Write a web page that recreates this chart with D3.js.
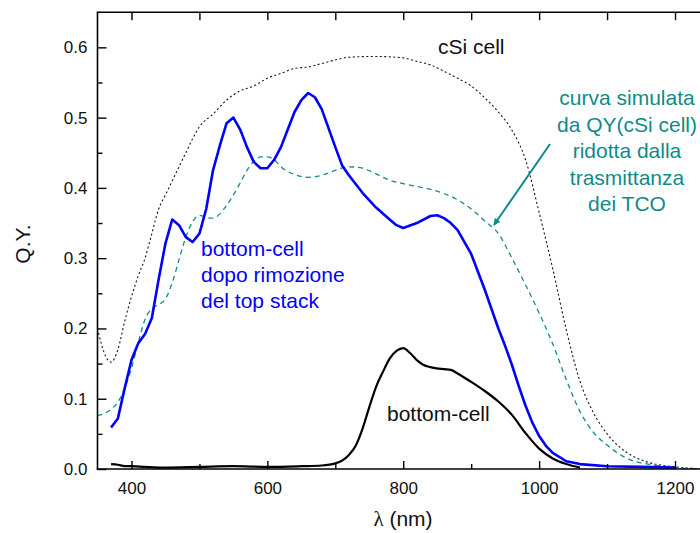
<!DOCTYPE html>
<html>
<head>
<meta charset="utf-8">
<script src="https://cdn.jsdelivr.net/npm/d3@7"></script>
<style>
  html, body { margin: 0; padding: 0; background: #fff; }
  svg { display: block; font-family: "Liberation Sans", Arial, sans-serif; }
</style>
</head>
<body>
<svg id="chart" width="700" height="533"></svg>
<script>
// ---- Data (wavelength in nm, quantum yield) ----
const cSiWl = [350,360,370,380,390,400,410,420,430,440,450,460,470,480,490,500,520,540,560,580,600,620,640,660,680,700,720,760,800,820,840,860,880,900,920,940,960,980,1000,1020,1040,1060,1080,1100,1120,1150,1200,1250];
const cSiQY = [0.200,0.165,0.152,0.170,0.210,0.245,0.275,0.300,0.335,0.370,0.390,0.410,0.430,0.450,0.470,0.487,0.505,0.525,0.538,0.545,0.556,0.563,0.570,0.572,0.577,0.582,0.586,0.587,0.585,0.580,0.575,0.566,0.556,0.545,0.528,0.508,0.482,0.440,0.365,0.285,0.198,0.125,0.080,0.050,0.030,0.013,0.003,0.000];

const blueWl = [370,380,390,400,410,420,430,440,450,460,470,480,490,500,510,520,530,540,550,560,570,580,590,600,610,620,630,640,650,660,670,680,690,700,710,720,740,760,780,790,800,820,840,850,860,870,880,900,920,940,950,960,970,980,990,1000,1010,1020,1040,1060,1100,1150,1200];
const blueQY = [0.059,0.072,0.115,0.155,0.179,0.192,0.215,0.270,0.321,0.355,0.347,0.330,0.323,0.335,0.370,0.425,0.460,0.492,0.500,0.483,0.458,0.437,0.428,0.428,0.440,0.458,0.483,0.508,0.525,0.535,0.529,0.512,0.485,0.458,0.432,0.418,0.393,0.372,0.355,0.347,0.343,0.350,0.360,0.361,0.357,0.350,0.340,0.306,0.255,0.200,0.175,0.148,0.118,0.090,0.066,0.047,0.033,0.023,0.011,0.007,0.004,0.003,0.002];

const simWl = [350,360,370,380,390,400,410,420,430,440,450,460,470,480,490,500,510,520,530,540,550,560,570,580,590,600,610,620,640,660,680,700,720,740,760,780,800,820,840,860,880,900,920,940,960,980,1000,1020,1040,1060,1080,1100,1120,1140,1160,1200,1250];
const simQY = [0.076,0.079,0.085,0.095,0.115,0.143,0.180,0.213,0.228,0.234,0.242,0.265,0.298,0.330,0.352,0.361,0.358,0.357,0.363,0.375,0.390,0.407,0.425,0.438,0.444,0.444,0.440,0.430,0.419,0.415,0.418,0.425,0.430,0.428,0.420,0.411,0.406,0.402,0.398,0.392,0.383,0.370,0.353,0.335,0.300,0.262,0.222,0.178,0.127,0.082,0.052,0.034,0.020,0.011,0.007,0.002,0.000];

const botWl = [370,380,390,400,420,450,500,550,600,650,680,700,710,720,730,740,750,760,770,780,790,800,810,820,830,840,860,870,880,900,920,940,960,980,1000,1020,1040,1060];
const botQY = [0.007,0.006,0.004,0.004,0.003,0.002,0.003,0.004,0.003,0.004,0.005,0.008,0.012,0.020,0.033,0.057,0.088,0.117,0.138,0.157,0.168,0.172,0.165,0.155,0.148,0.145,0.142,0.141,0.136,0.124,0.111,0.096,0.077,0.051,0.029,0.015,0.007,0.002];

const yTicks = [0.0,0.1,0.2,0.3,0.4,0.5,0.6];
const xTicks = [400,600,800,1000,1200];

const zip = (a, b) => a.map((v, i) => [v, b[i]]);

// ---- Scales ----
const svg = d3.select("#chart");
const x = d3.scaleLinear().domain([350, 1250]).range([97.5, 709]);
const y = d3.scaleLinear().domain([0, 0.65]).range([469, 12.2]);

// clip
svg.append("defs").append("clipPath").attr("id", "clip")
  .append("rect").attr("x", 97.5).attr("y", 12.2).attr("width", 611.5).attr("height", 456.8);
const marker = svg.select("defs").append("marker")
  .attr("id", "arrow").attr("viewBox", "0 0 10 10").attr("refX", 9).attr("refY", 5)
  .attr("markerWidth", 7).attr("markerHeight", 7).attr("markerUnits", "userSpaceOnUse")
  .attr("orient", "auto");
marker.append("path").attr("d", "M0,0 L10,5 L0,10 Z").attr("fill", "#0f8a8a");

// ---- Curves ----
const smooth = d3.line().x(d => x(d[0])).y(d => y(d[1])).curve(d3.curveMonotoneX);
const linear = d3.line().x(d => x(d[0])).y(d => y(d[1]));
const plot = svg.append("g").attr("clip-path", "url(#clip)");

plot.append("path").datum(zip(cSiWl, cSiQY)).attr("d", smooth)
  .attr("fill", "none").attr("stroke", "#111").attr("stroke-width", 1.1).attr("stroke-dasharray", "2,2.5");
plot.append("path").datum(zip(simWl, simQY)).attr("d", smooth)
  .attr("fill", "none").attr("stroke", "#118c8c").attr("stroke-width", 1.3).attr("stroke-dasharray", "5,4");
plot.append("path").datum(zip(botWl, botQY)).attr("d", smooth)
  .attr("fill", "none").attr("stroke", "#000").attr("stroke-width", 2.2);
plot.append("path").datum(zip(blueWl, blueQY)).attr("d", linear)
  .attr("fill", "none").attr("stroke", "#0000ff").attr("stroke-width", 2.6).attr("stroke-linejoin", "round");

// ---- Axes ----
const axisStyle = g => {
  g.select(".domain").remove();
  g.selectAll("line").attr("stroke", "#000").attr("stroke-width", 1.4);
  g.selectAll("text").attr("fill", "#111").style("font-size", "17px").style("font-family", "'Liberation Sans', Arial, sans-serif");
};

// bottom major
svg.append("g").attr("transform", "translate(0,469)")
  .call(d3.axisBottom(x).tickValues(xTicks).tickFormat(d3.format("d")).tickSizeInner(-8).tickSizeOuter(0).tickPadding(13))
  .call(axisStyle);
// bottom minor
svg.append("g").attr("transform", "translate(0,469)")
  .call(d3.axisBottom(x).tickValues([500,700,900,1100]).tickFormat("").tickSizeInner(-5).tickSizeOuter(0))
  .call(axisStyle);
// top ticks
svg.append("g").attr("transform", "translate(0,12.2)")
  .call(d3.axisTop(x).tickValues([400,500,600,700,800,900,1000,1100,1200]).tickFormat("").tickSizeInner(-8).tickSizeOuter(0))
  .call(axisStyle);
// left major
svg.append("g").attr("transform", "translate(97.5,0)")
  .call(d3.axisLeft(y).tickValues(yTicks).tickFormat(d3.format(".1f")).tickSizeInner(-9).tickSizeOuter(0).tickPadding(10))
  .call(axisStyle);
// left minor
svg.append("g").attr("transform", "translate(97.5,0)")
  .call(d3.axisLeft(y).tickValues([0.05,0.15,0.25,0.35,0.45,0.55]).tickFormat("").tickSizeInner(-5).tickSizeOuter(0))
  .call(axisStyle);

// frame lines
svg.append("line").attr("x1", 97.5).attr("x2", 97.5).attr("y1", 12.2).attr("y2", 469.7).attr("stroke", "#000").attr("stroke-width", 1.6);
svg.append("line").attr("x1", 96.7).attr("x2", 710).attr("y1", 469).attr("y2", 469).attr("stroke", "#000").attr("stroke-width", 1.6);
svg.append("line").attr("x1", 96.7).attr("x2", 710).attr("y1", 12.2).attr("y2", 12.2).attr("stroke", "#000").attr("stroke-width", 1.6);

// ---- Axis titles ----
svg.append("text").attr("transform", "translate(30,244) rotate(-90)")
  .attr("text-anchor", "middle").style("font-size", "21px").attr("fill", "#111").text("Q.Y.");
const xt = svg.append("text").attr("x", 403).attr("y", 526).attr("text-anchor", "middle")
  .style("font-size", "21px").attr("fill", "#111");
xt.append("tspan").style("font-family", "'Liberation Serif', serif").text("λ");
xt.append("tspan").text(" (nm)");

// ---- Annotations ----
svg.append("text").attr("x", 438).attr("y", 54).style("font-size", "21px").attr("fill", "#111").text("cSi cell");
svg.append("text").attr("x", 387).attr("y", 421).style("font-size", "21px").attr("fill", "#111").text("bottom-cell");

const blueLines = ["bottom-cell", "dopo rimozione", "del top stack"];
svg.append("g").selectAll("text").data(blueLines).join("text")
  .attr("x", 201).attr("y", (d, i) => 256 + i * 26)
  .style("font-size", "21px").attr("fill", "#0000ff").text(d => d);

const tealLines = ["curva simulata", "da QY(cSi cell)", "ridotta dalla", "trasmittanza", "dei TCO"];
svg.append("g").selectAll("text").data(tealLines).join("text")
  .attr("x", 627).attr("y", (d, i) => 105 + i * 26.5).attr("text-anchor", "middle")
  .style("font-size", "21px").attr("fill", "#0f8a8a").text(d => d);

svg.append("line").attr("x1", 550).attr("y1", 144).attr("x2", 494).attr("y2", 225)
  .attr("stroke", "#0f8a8a").attr("stroke-width", 2).attr("marker-end", "url(#arrow)");
</script>
</body>
</html>
